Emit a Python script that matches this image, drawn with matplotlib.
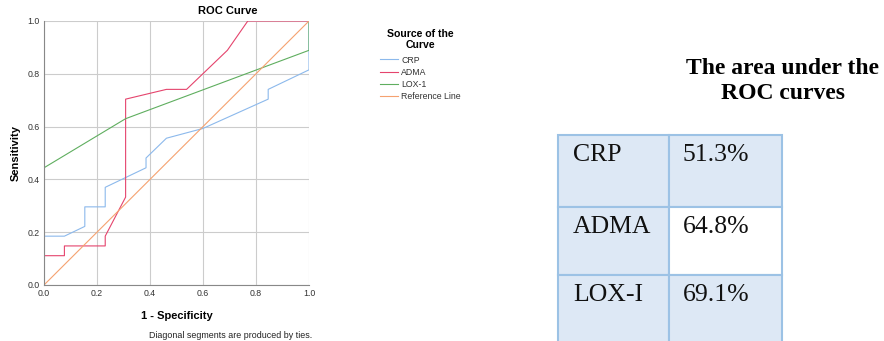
import matplotlib.pyplot as plt
from matplotlib.patches import Rectangle

# ROC curve points (1 - specificity, sensitivity)
crp_fpr = [0.0, 0.0, 0.077, 0.154, 0.154, 0.231, 0.231, 0.385, 0.385, 0.462, 0.600, 0.846, 0.846, 1.0, 1.0]
crp_tpr = [0.0, 0.185, 0.185, 0.222, 0.296, 0.296, 0.370, 0.444, 0.481, 0.556, 0.593, 0.704, 0.741, 0.815, 1.0]

adma_fpr = [0.0, 0.0, 0.077, 0.077, 0.231, 0.231, 0.308, 0.308, 0.462, 0.538, 0.692, 0.769, 1.0]
adma_tpr = [0.0, 0.111, 0.111, 0.148, 0.148, 0.185, 0.333, 0.704, 0.741, 0.741, 0.889, 1.0, 1.0]

lox_fpr = [0.0, 0.0, 0.308, 1.0, 1.0]
lox_tpr = [0.0, 0.444, 0.630, 0.889, 1.0]

ref_fpr = [0.0, 1.0]
ref_tpr = [0.0, 1.0]

# AUC table
markers = ["CRP", "ADMA", "LOX-I"]
auc_text = ["51.3%", "64.8%", "69.1%"]

W, H = 884, 341
fig = plt.figure(figsize=(W / 100, H / 100), dpi=100)

# ---------------- ROC chart ----------------
ax = fig.add_axes([44 / W, 1 - 285 / H, 265 / W, 264 / H])
ax.plot(crp_fpr, crp_tpr, color="#8cb9ec", lw=0.8, label="CRP")
ax.plot(adma_fpr, adma_tpr, color="#e5446d", lw=0.8, label="ADMA")
ax.plot(lox_fpr, lox_tpr, color="#5fae5f", lw=0.8, label="LOX-1")
ax.plot(ref_fpr, ref_tpr, color="#f5a270", lw=0.8, label="Reference Line")

ax.set_xlim(0, 1)
ax.set_ylim(0, 1)
ticks = [0.0, 0.2, 0.4, 0.6, 0.8, 1.0]
ax.set_xticks(ticks)
ax.set_yticks(ticks)
ax.set_xticklabels([f"{t:.1f}" for t in ticks])
ax.set_yticklabels([f"{t:.1f}" for t in ticks])
ax.tick_params(length=0, labelsize=6.3, labelcolor="#333333", pad=3)
ax.grid(True, color="#cccccc", lw=0.8)
ax.set_axisbelow(True)
for s in ["top", "right"]:
    ax.spines[s].set_visible(False)
for s in ["left", "bottom"]:
    ax.spines[s].set_color("#888888")
    ax.spines[s].set_linewidth(0.8)
for lab in ax.get_xticklabels() + ax.get_yticklabels():
    lab.set_family("Liberation Sans")

# SPSS puts the title off-centre
fig.text(228 / W, 1 - 11 / H, "ROC Curve", ha="center", va="center",
         fontsize=8, fontweight="bold", family="Liberation Sans")
ax.set_xlabel("1 - Specificity", fontsize=8, fontweight="bold", family="Liberation Sans", labelpad=9)
ax.set_ylabel("Sensitivity", fontsize=8, fontweight="bold", family="Liberation Sans", labelpad=5)

fig.text(312 / W, 1 - 336 / H, "Diagonal segments are produced by ties.",
         ha="right", va="center", fontsize=6.4, family="Liberation Sans", color="#222222")

leg = fig.legend(loc="upper left", bbox_to_anchor=(372 / W, 1 - 21 / H), frameon=False,
                 title="Source of the\nCurve", handlelength=2.1,
                 handletextpad=0.35, labelspacing=0.35,
                 prop={"family": "Liberation Sans", "size": 6.3},
                 title_fontproperties={"family": "Liberation Sans", "weight": "bold", "size": 7.6})
leg.get_title().set_multialignment("center")
leg.get_title().set_linespacing(1.1)
leg._legend_box.sep += 2  # a bit more room under the title
for t in leg.get_texts():
    t.set_color("#333333")

# ---------------- AUC table ----------------
fig.text(783 / W, 1 - 81 / H, "The area under the\nROC curves", ha="center", va="center",
         fontsize=17, fontweight="bold", family="Liberation Serif", linespacing=1.3)

tab = fig.add_axes([0, 0, 1, 1])
tab.set_xlim(0, W)
tab.set_ylim(H, 0)
tab.axis("off")

col_x = [558, 669, 782]
row_y = [135, 207, 275, 345]
fill = "#dde8f5"
edge = "#9cc2e5"
for i, (name, val) in enumerate(zip(markers, auc_text)):
    y0, y1 = row_y[i], row_y[i + 1]
    tab.add_patch(Rectangle((col_x[0], y0), col_x[1] - col_x[0], y1 - y0,
                            facecolor=fill, edgecolor=edge, lw=1.5))
    vcol = "white" if name == "ADMA" else fill
    tab.add_patch(Rectangle((col_x[1], y0), col_x[2] - col_x[1], y1 - y0,
                            facecolor=vcol, edgecolor=edge, lw=1.5))
    tab.text(col_x[0] + 15, y0 + 9, name, ha="left", va="top",
             fontsize=18.5, family="Liberation Serif", color="#111111")
    tab.text(col_x[1] + 14, y0 + 9, val, ha="left", va="top",
             fontsize=18.5, family="Liberation Serif", color="#111111")

fig.savefig("out.png", dpi=100)
